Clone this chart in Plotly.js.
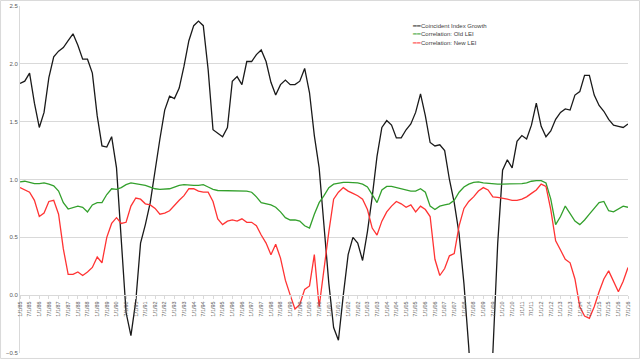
<!DOCTYPE html>
<html>
<head>
<meta charset="utf-8">
<script src="https://cdn.plot.ly/plotly-3.0.1.min.js"></script>
<style>html,body{margin:0;padding:0;background:#fff;}#chart{width:640px;height:359px;}</style>
</head>
<body>
<div id="chart"></div>
<script>
// Quarterly series, Jan 1985 .. Jul 2016
const startYear = 1985;
const seriesNames = ["Coincident Index Growth", "Correlation: Old LEI", "Correlation: New LEI"];
const coincident = [1.83,1.85,1.92,1.66,1.45,1.58,1.88,2.06,2.11,2.14,
2.20,2.26,2.16,2.04,2.04,1.92,1.55,1.29,1.28,1.37,
1.10,0.50,-0.15,-0.35,-0.05,0.45,0.61,0.80,1.09,1.35,
1.60,1.72,1.70,1.79,1.98,2.20,2.33,2.37,2.33,1.95,
1.43,1.40,1.37,1.45,1.85,1.89,1.82,2.02,2.02,2.08,
2.12,2.02,1.84,1.73,1.82,1.86,1.82,1.82,1.85,1.96,
1.75,1.38,1.10,0.60,0.10,-0.28,-0.39,0.00,0.35,0.50,
0.45,0.30,0.55,0.85,1.20,1.45,1.51,1.47,1.36,1.36,
1.43,1.48,1.58,1.74,1.55,1.32,1.29,1.30,1.25,1.00,
0.80,0.53,0.10,-0.45,-1.20,-1.80,-1.60,-1.00,-0.50,0.45,
1.08,1.17,1.10,1.33,1.38,1.35,1.47,1.66,1.46,1.37,
1.42,1.52,1.58,1.61,1.60,1.73,1.76,1.90,1.90,1.73,
1.64,1.59,1.52,1.47,1.46,1.45,1.48];
const oldLEI = [0.98,0.985,0.975,0.965,0.965,0.97,0.96,0.945,0.90,0.80,
0.745,0.76,0.77,0.76,0.72,0.78,0.80,0.80,0.87,0.92,
0.915,0.93,0.955,0.97,0.965,0.955,0.95,0.935,0.92,0.915,
0.915,0.92,0.935,0.95,0.955,0.95,0.95,0.95,0.955,0.935,
0.915,0.905,0.905,0.90,0.90,0.905,0.90,0.90,0.89,0.85,
0.80,0.79,0.78,0.76,0.72,0.67,0.65,0.65,0.64,0.60,
0.58,0.70,0.80,0.86,0.93,0.96,0.97,0.975,0.975,0.975,
0.97,0.96,0.935,0.87,0.80,0.91,0.94,0.94,0.93,0.92,
0.905,0.90,0.90,0.92,0.89,0.77,0.74,0.77,0.78,0.79,
0.82,0.89,0.935,0.96,0.975,0.98,0.97,0.965,0.96,0.96,
0.96,0.96,0.96,0.96,0.965,0.97,0.985,0.99,0.99,0.97,
0.83,0.61,0.68,0.77,0.71,0.64,0.61,0.65,0.70,0.75,
0.80,0.81,0.73,0.72,0.745,0.77,0.76];
const newLEI = [0.93,0.91,0.89,0.82,0.68,0.71,0.81,0.82,0.70,0.40,
0.18,0.18,0.20,0.17,0.20,0.24,0.33,0.28,0.50,0.62,
0.67,0.62,0.63,0.77,0.84,0.83,0.79,0.78,0.75,0.70,
0.71,0.73,0.78,0.82,0.86,0.92,0.92,0.90,0.89,0.89,
0.81,0.66,0.61,0.64,0.65,0.64,0.66,0.63,0.63,0.60,
0.52,0.45,0.35,0.44,0.32,0.13,0.00,-0.12,-0.08,0.05,
0.08,0.35,-0.10,0.23,0.55,0.83,0.89,0.93,0.90,0.88,
0.86,0.83,0.74,0.58,0.52,0.64,0.72,0.77,0.81,0.79,
0.76,0.78,0.72,0.77,0.74,0.68,0.31,0.17,0.23,0.34,
0.36,0.60,0.75,0.81,0.85,0.90,0.93,0.91,0.85,0.845,
0.84,0.83,0.82,0.82,0.83,0.85,0.88,0.91,0.96,0.94,
0.74,0.47,0.39,0.31,0.28,0.14,-0.10,-0.18,-0.20,-0.10,
0.03,0.14,0.21,0.12,0.03,0.12,0.24];
const colors = ["#1a1a1a", "#33a02c", "#ff3333"];

const dates = coincident.map((_, i) => {
  const y = startYear + Math.floor(i / 4);
  const m = (i % 4) * 3 + 1;
  return y + "-" + String(m).padStart(2, "0") + "-01";
});

const allSeries = [coincident, oldLEI, newLEI];
const traces = allSeries.map((vals, k) => ({
  type: "scatter", mode: "lines", x: dates, y: vals, name: seriesNames[k],
  line: {color: colors[k], width: 1.3}, showlegend: false
}));

const font = "Liberation Sans, Arial, sans-serif";
const legendY = [0.943, 0.918, 0.893];
const annotations = seriesNames.map((n, k) => ({
  xref: "paper", yref: "paper", x: 0.641, y: legendY[k], xanchor: "left", yanchor: "middle",
  showarrow: false, align: "left",
  text: "<span style='color:" + colors[k] + "'>━━</span>" + n,
  font: {family: font, size: 6, color: "#404040"}
}));

const layout = {
  width: 640, height: 359,
  margin: {l: 20, r: 12, t: 6, b: 6, pad: 0},
  paper_bgcolor: "#ffffff", plot_bgcolor: "#ffffff",
  font: {family: font, size: 6, color: "#595959"},
  showlegend: false,
  xaxis: {
    type: "date", range: ["1985-01-01", "2016-07-01"],
    tick0: "1985-01-01", dtick: "M6", tickformat: "%-m/%-d/%y",
    tickangle: -90, tickfont: {family: font, size: 5.5, color: "#595959"},
    anchor: "free", position: 1/6,
    showgrid: false, showline: true, linecolor: "#d9d9d9", linewidth: 1,
    ticks: "outside", ticklen: 3, tickcolor: "#d9d9d9",
    automargin: false, zeroline: false
  },
  yaxis: {
    range: [-0.5, 2.5], tick0: 0, dtick: 0.5, tickformat: ".1f",
    tickfont: {family: font, size: 6, color: "#595959"},
    gridcolor: "#d9d9d9", gridwidth: 1,
    showline: true, linecolor: "#d9d9d9", zeroline: false,
    automargin: false, ticks: ""
  },
  annotations: annotations,
  shapes: [{
    type: "rect", xref: "paper", yref: "paper",
    x0: -0.032, x1: 1.0189, y0: -0.0158, y1: 1.0159,
    line: {color: "#d9d9d9", width: 1}, layer: "below"
  }]
};

Plotly.newPlot("chart", traces, layout, {staticPlot: true, displayModeBar: false});
</script>
</body>
</html>
